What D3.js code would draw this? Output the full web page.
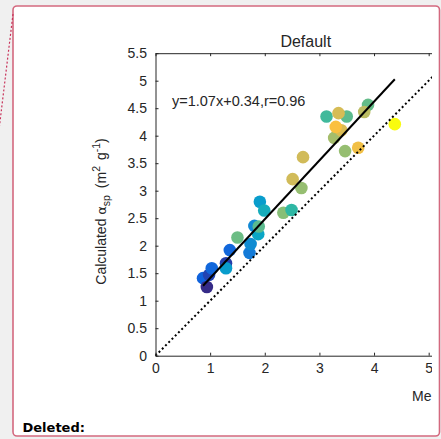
<!DOCTYPE html>
<html>
<head>
<meta charset="utf-8">
<script src="https://cdn.jsdelivr.net/npm/d3@7"></script>
<style>
  html, body { margin: 0; padding: 0; background: #f0f0f0; }
  svg { display: block; }
  text { font-family: "Liberation Sans", Arial, Helvetica, sans-serif; fill: #262626; }
</style>
</head>
<body>
<svg id="chart" width="441" height="439"></svg>
<script>
// ---- data ----
const measured   = [0.87, 0.94, 0.98, 1.03, 1.29, 1.29, 1.36, 1.72, 1.81, 1.74, 1.88, 1.91, 1.99, 2.34, 2.49, 1.50, 1.89, 3.13, 3.50, 2.51, 2.67, 3.47, 3.27, 3.89, 3.82, 2.70, 3.40, 3.35, 3.71, 3.30, 4.38];
const calculated = [1.41, 1.25, 1.47, 1.59, 1.68, 1.59, 1.92, 1.87, 2.36, 2.03, 2.21, 2.80, 2.64, 2.60, 2.65, 2.15, 2.35, 4.35, 4.35, 3.21, 3.05, 3.72, 3.96, 4.56, 4.43, 3.61, 4.10, 4.41, 3.78, 4.16, 4.21];
const colorValue = [0.12, 0.00, 0.05, 0.13, 0.04, 0.28, 0.13, 0.18, 0.22, 0.23, 0.31, 0.28, 0.34, 0.50, 0.40, 0.47, 0.45, 0.42, 0.45, 0.60, 0.52, 0.52, 0.54, 0.46, 0.57, 0.60, 0.62, 0.61, 0.67, 0.69, 1.00];
const fitSlope = 1.07, fitIntercept = 0.34, fitR = 0.96;
const xTicks = [0, 1, 2, 3, 4, 5];
const xTickLabels = ["0", "1", "2", "3", "4", "5"];
const yTicks = [0, 0.5, 1, 1.5, 2, 2.5, 3, 3.5, 4, 4.5, 5, 5.5];
const yTickLabels = ["0", "0.5", "1", "1.5", "2", "2.5", "3", "3.5", "4", "4.5", "5", "5.5"];
const titleText = "Default";
const xLabelText = "Me";
const noteText = "Deleted:";

// parula colormap stops
const parulaStops = ["#352a87", "#0f5cdd", "#1481d6", "#06a4ca", "#2eb7a4", "#87bf77", "#d1bb59", "#fec13c", "#f5d62b", "#f3ea1d", "#f9fb0e"];

const svg = d3.select("#chart");

// page frame (document box)
svg.append("rect").attr("x", 13).attr("y", 6).attr("width", 426.5).attr("height", 430)
  .attr("rx", 4).attr("fill", "#ffffff").attr("stroke", "#d4697f").attr("stroke-width", 1.6);
svg.append("line").attr("x1", 13).attr("y1", 14).attr("x2", -1).attr("y2", 130)
  .attr("stroke", "#c8325a").attr("stroke-width", 1.2).attr("stroke-dasharray", "2,2");
svg.append("text").attr("x", 22.5).attr("y", 432).text(noteText)
  .style("font-family", "'DejaVu Sans', Verdana, sans-serif").style("font-weight", "bold")
  .style("font-size", "13px").style("fill", "#000");

// chart clip
svg.append("defs").append("clipPath").attr("id", "clip")
  .append("rect").attr("x", 0).attr("y", 0).attr("width", 432).attr("height", 439);
const g = svg.append("g").attr("clip-path", "url(#clip)");

const x = d3.scaleLinear().domain([0, 5.5]).range([155.5, 456]);
const y = d3.scaleLinear().domain([0, 5.5]).range([355.7, 53.2]);
const color = d3.scaleLinear()
  .domain(parulaStops.map((_, i) => i / (parulaStops.length - 1)))
  .range(parulaStops).interpolate(d3.interpolateRgb);

const pts = measured.map((m, i) => ({x: m, y: calculated[i], c: colorValue[i]}));

// markers
g.append("g").selectAll("circle").data(pts).join("circle")
  .attr("cx", d => x(d.x)).attr("cy", d => y(d.y)).attr("r", 6.3)
  .attr("fill", d => color(d.c));

// 1:1 line
g.append("line").attr("x1", x(0)).attr("y1", y(0)).attr("x2", x(5.5)).attr("y2", y(5.5))
  .attr("stroke", "#000").attr("stroke-width", 2).attr("stroke-dasharray", "2,2.6");

// fit line
const xmin = d3.min(measured), xmax = d3.max(measured);
g.append("line")
  .attr("x1", x(xmin)).attr("y1", y(fitSlope * xmin + fitIntercept))
  .attr("x2", x(xmax)).attr("y2", y(fitSlope * xmax + fitIntercept))
  .attr("stroke", "#000").attr("stroke-width", 2);

// axes
const axColor = "#262626";
const axBottom = g.append("g").attr("transform", `translate(0,${y(0)})`)
  .call(d3.axisBottom(x).tickValues(xTicks).tickFormat((d, i) => xTickLabels[i]).tickSize(-3).tickSizeOuter(0).tickPadding(7));
const axTop = g.append("g").attr("transform", `translate(0,${y(5.5)})`)
  .call(d3.axisTop(x).tickValues(xTicks).tickFormat("").tickSize(-3).tickSizeOuter(0));
const axLeft = g.append("g").attr("transform", `translate(${x(0)},0)`)
  .call(d3.axisLeft(y).tickValues(yTicks).tickFormat((d, i) => yTickLabels[i]).tickSize(-3).tickSizeOuter(0).tickPadding(8.5));
[axBottom, axTop, axLeft].forEach(a => {
  a.select(".domain").attr("stroke", axColor).attr("stroke-width", 1);
  a.selectAll(".tick line").attr("stroke", axColor);
  a.selectAll(".tick text").style("font-size", "14px").style("font-family", "'Liberation Sans', Arial, sans-serif").attr("fill", axColor);
});

// title
g.append("text").attr("x", (x(0) + x(5.5)) / 2).attr("y", 46.5).attr("text-anchor", "middle")
  .style("font-size", "16px").text(titleText);

// equation
g.append("text").attr("x", 172).attr("y", 106).style("font-size", "14.5px")
  .text(`y=${fitSlope.toFixed(2)}x+${fitIntercept.toFixed(2)},r=${fitR.toFixed(2)}`);

// y label
const yl = g.append("text").attr("transform", "translate(106,211.5) rotate(-90)")
  .attr("text-anchor", "middle").style("font-size", "14px");
yl.append("tspan").text("Calculated ");
yl.append("tspan").text("\u03B1").style("font-family", "'DejaVu Sans', sans-serif").style("font-size", "13px");
yl.append("tspan").text("sp").attr("dy", 4).style("font-size", "10.5px");
yl.append("tspan").text(" (m").attr("dy", -4).attr("dx", 3);
yl.append("tspan").text("2").attr("dy", -6).style("font-size", "10.5px");
yl.append("tspan").text(" g").attr("dy", 6).attr("dx", 2);
yl.append("tspan").text("-1").attr("dy", -6).style("font-size", "10.5px");
yl.append("tspan").text(")").attr("dy", 6);

// x label (visible part only, as in the reference)
g.append("text").attr("x", 412).attr("y", 401).style("font-size", "14px").text(xLabelText);
</script>
</body>
</html>
